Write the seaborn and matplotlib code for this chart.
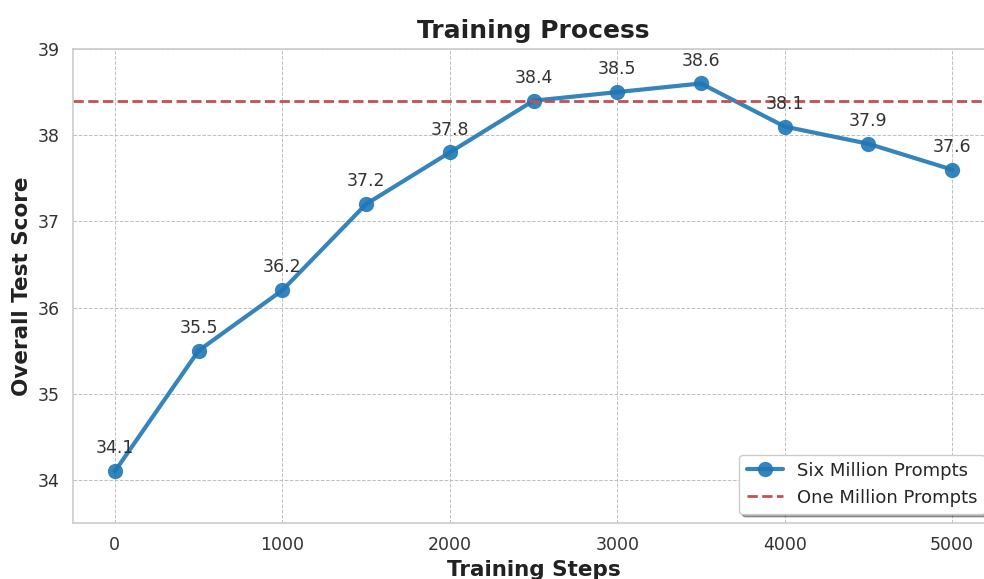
import matplotlib
matplotlib.use("Agg")
import matplotlib.pyplot as plt
import seaborn as sns
import pandas as pd

steps = [0, 500, 1000, 1500, 2000, 2500, 3000, 3500, 4000, 4500, 5000]
scores = [34.1, 35.5, 36.2, 37.2, 37.8, 38.4, 38.5, 38.6, 38.1, 37.9, 37.6]
baseline = 38.4
series_labels = ["Six Million Prompts", "One Million Prompts"]

sns.set_theme(style="whitegrid")
plt.rcParams['font.family'] = ['DejaVu Sans']

fig = plt.figure(figsize=(9.84, 5.79), dpi=100)
ax = fig.add_axes([73/984, (579-523)/579, (994-73)/984, (523-49)/579])

df = pd.DataFrame({"Training Steps": steps, "Overall Test Score": scores})
sns.lineplot(data=df, x="Training Steps", y="Overall Test Score", ax=ax,
             marker="o", markersize=11, linewidth=3, color="#1f77b4", alpha=0.9,
             markeredgewidth=0, label=series_labels[0])
ax.axhline(baseline, color="#C44E52", linestyle="--", linewidth=2, alpha=1,
           label=series_labels[1])

for x, y in zip(steps, scores):
    ax.annotate(f"{y}", (x, y), xytext=(0, 10), textcoords="offset points",
                ha="center", va="bottom", fontsize=12.5, color="#333333")

ax.set_xlim(-250, 5250)
ax.set_ylim(33.5, 39)
ax.set_xticks([0, 1000, 2000, 3000, 4000, 5000])
ax.set_yticks([34, 35, 36, 37, 38, 39])
ax.tick_params(labelsize=12.5, colors="#333333")
ax.grid(True, linestyle="--", linewidth=0.7, color="#c0c0c0")
for s in ax.spines.values():
    s.set_color("#cccccc")
    s.set_linewidth(1.2)

ax.set_title("Training Process", fontsize=18, fontweight="bold", pad=8, color="#222222")
ax.set_xlabel("Training Steps", fontsize=15.5, fontweight="bold", color="#222222")
ax.set_ylabel("Overall Test Score", fontsize=15.5, fontweight="bold", color="#222222")

ax.legend(loc="lower right", fontsize=13, frameon=True, shadow=True,
          framealpha=1, edgecolor="#cccccc")

fig.savefig("out.png", dpi=100)
